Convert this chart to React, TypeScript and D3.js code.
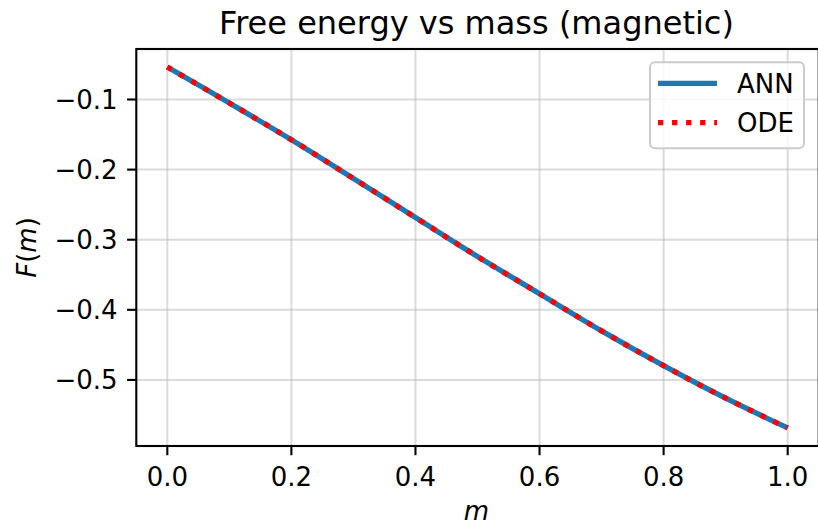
import React from "react";
import * as d3 from "d3";

const massValues = [0, 0.1, 0.2, 0.3, 0.4, 0.5, 0.6, 0.7, 0.8, 0.9, 1.0];
const annValues = [-0.0537, -0.105, -0.1574, -0.2126, -0.2684, -0.324, -0.377, -0.43, -0.4796, -0.526, -0.5685];
const odeValues = [-0.0537, -0.105, -0.1574, -0.2126, -0.2684, -0.324, -0.377, -0.43, -0.4796, -0.526, -0.5685];
const xTicks = [0, 0.2, 0.4, 0.6, 0.8, 1.0];
const yTicks = [-0.1, -0.2, -0.3, -0.4, -0.5];
const seriesNames = ["ANN", "ODE"];

const W = 818;
const H = 531;
const L = 136.3, R = 818.7, T = 49, B = 446;
const FONT = "DejaVu Sans, sans-serif";

export default function App() {
  const all = [...annValues, ...odeValues];
  const ymin = d3.min(all)!;
  const ymax = d3.max(all)!;
  const pad = (ymax - ymin) * 0.05;
  const x = d3.scaleLinear().domain([-0.05, 1.05]).range([L, R]);
  const y = d3.scaleLinear().domain([ymin - pad, ymax + pad]).range([B, T]);
  const line = d3
    .line<number>()
    .x((_, i) => x(massValues[i]))
    .y((d) => y(d))
    .curve(d3.curveCatmullRom.alpha(0.5));
  const fmt = (v: number) => (v < 0 ? "\u2212" : "") + d3.format(".1f")(Math.abs(v));
  const lw = 5.3;
  const tickLen = 9.2;
  const legX = 650, legY = 62.3, legW = 154, legH = 86;

  return (
    <svg
      width={W}
      height={H}
      style={{ position: "absolute", left: 0, top: 0, background: "white" }}
      fontFamily={FONT}
    >
      <rect x={0} y={0} width={W} height={H} fill="white" />
      {/* grid */}
      {xTicks.map((t) => (
        <line key={"gx" + t} x1={x(t)} x2={x(t)} y1={T} y2={B} stroke="#b0b0b0" strokeOpacity={0.45} strokeWidth={2} />
      ))}
      {yTicks.map((t) => (
        <line key={"gy" + t} x1={L} x2={R} y1={y(t)} y2={y(t)} stroke="#b0b0b0" strokeOpacity={0.45} strokeWidth={2} />
      ))}
      {/* lines */}
      <path d={line(annValues)!} fill="none" stroke="#1f77b4" strokeWidth={lw} />
      <path
        d={line(odeValues)!}
        fill="none"
        stroke="#ff0000"
        strokeWidth={lw}
        strokeDasharray={`${lw} ${lw * 1.65}`}
      />
      {/* spines */}
      <rect x={L} y={T} width={R - L} height={B - T} fill="none" stroke="black" strokeWidth={2.1} />
      {/* x ticks */}
      {xTicks.map((t) => (
        <g key={"xt" + t}>
          <line x1={x(t)} x2={x(t)} y1={B} y2={B + tickLen} stroke="black" strokeWidth={2.1} />
          <text x={x(t)} y={486} textAnchor="middle" fontSize={26} fill="black">
            {d3.format(".1f")(t)}
          </text>
        </g>
      ))}
      {/* y ticks */}
      {yTicks.map((t) => (
        <g key={"yt" + t}>
          <line x1={L - tickLen} x2={L} y1={y(t)} y2={y(t)} stroke="black" strokeWidth={2.1} />
          <text x={L - tickLen - 9.5} y={y(t)} dy="0.36em" textAnchor="end" fontSize={26} fill="black">
            {fmt(t)}
          </text>
        </g>
      ))}
      {/* title */}
      <text x={(L + R) / 2 - 1} y={34} textAnchor="middle" fontSize={32} fill="black">
        Free energy vs mass (magnetic)
      </text>
      {/* axis labels */}
      <text x={(L + R) / 2 - 1} y={520} textAnchor="middle" fontSize={26} fontStyle="italic" fill="black">
        m
      </text>
      <text
        transform={`translate(36, ${(T + B) / 2}) rotate(-90)`}
        textAnchor="middle"
        fontSize={26}
        fill="black"
      >
        <tspan fontStyle="italic">F</tspan>
        <tspan>(</tspan>
        <tspan fontStyle="italic">m</tspan>
        <tspan>)</tspan>
      </text>
      {/* legend */}
      <rect x={legX} y={legY} width={legW} height={legH} rx={5} fill="white" fillOpacity={0.8} stroke="#cccccc" strokeWidth={2} />
      {seriesNames.map((name, i) => {
        const cy = 83.3 + i * 39.4;
        return (
          <g key={name}>
            {i === 0 ? (
              <line x1={658} x2={717} y1={cy} y2={cy} stroke="#1f77b4" strokeWidth={lw} />
            ) : (
              <line x1={658} x2={717} y1={cy} y2={cy} stroke="#ff0000" strokeWidth={lw} strokeDasharray={`${lw} ${lw * 1.65}`} />
            )}
            <text x={737} y={cy} dy="0.36em" fontSize={26} fill="black">
              {name}
            </text>
          </g>
        );
      })}
    </svg>
  );
}
